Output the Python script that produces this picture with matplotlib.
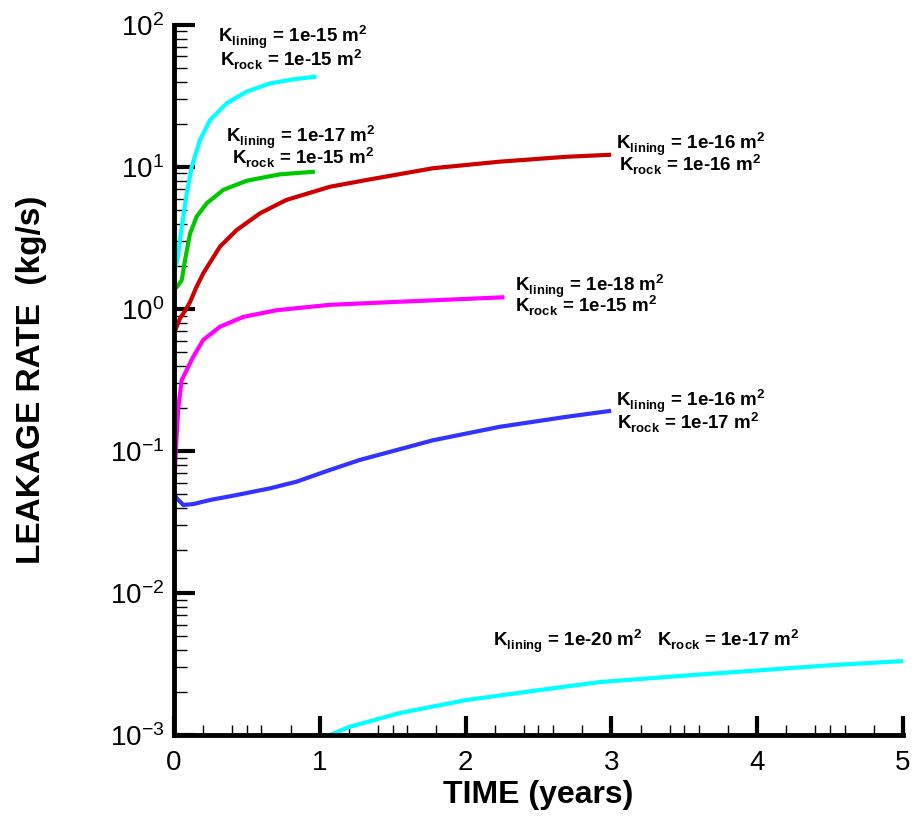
import matplotlib
matplotlib.use("Agg")
import matplotlib.pyplot as plt
import numpy as np

plt.rcParams['font.family'] = ['Liberation Sans', 'DejaVu Sans']
plt.rcParams['mathtext.fontset'] = 'custom'
plt.rcParams['mathtext.rm'] = 'Liberation Sans'
plt.rcParams['mathtext.bf'] = 'Liberation Sans:bold'
plt.rcParams['axes.unicode_minus'] = False

# leakage rate curves (time in years, rate in kg/s)
t_a = [0.012, 0.023, 0.053, 0.087, 0.121, 0.178, 0.247, 0.361, 0.498, 0.658, 0.817, 0.977]
q_a = [2.0, 2.21, 3.8, 6.5, 10.0, 15.5, 21.4, 28.1, 33.9, 38.8, 41.4, 43.3]

t_b = [0.008, 0.023, 0.053, 0.075, 0.11, 0.155, 0.224, 0.338, 0.498, 0.726, 0.966]
q_b = [1.4, 1.44, 1.6, 2.2, 3.4, 4.47, 5.55, 6.9, 8.0, 8.88, 9.27]

t_c = [0.0, 0.018, 0.041, 0.07, 0.11, 0.15, 0.2, 0.315, 0.43, 0.59, 0.77, 1.07, 1.32,
       1.776, 2.233, 2.69, 2.998]
q_c = [0.68, 0.75, 0.86, 0.95, 1.12, 1.4, 1.78, 2.75, 3.6, 4.72, 5.86, 7.26, 8.1,
       9.8, 10.9, 11.8, 12.2]

t_d = [0.003, 0.012, 0.022, 0.03, 0.053, 0.087, 0.132, 0.2, 0.315, 0.475, 0.703, 1.068,
       1.548, 2.267]
q_d = [0.06, 0.1, 0.15, 0.205, 0.316, 0.372, 0.461, 0.605, 0.75, 0.88, 0.98, 1.07,
       1.125, 1.21]

t_e = [0.004, 0.018, 0.064, 0.132, 0.247, 0.43, 0.658, 0.84, 1.068, 1.274, 1.776, 2.233,
       2.69, 2.998]
q_e = [0.05, 0.0465, 0.0417, 0.0423, 0.0452, 0.049, 0.0546, 0.0608, 0.0735, 0.0865,
       0.119, 0.148, 0.174, 0.192]

t_f = [1.07, 1.2, 1.55, 2.0, 2.5, 2.92, 3.5, 4.0, 4.5, 5.0]
q_f = [1.0e-3, 1.14e-3, 1.43e-3, 1.76e-3, 2.07e-3, 2.36e-3, 2.62e-3, 2.85e-3, 3.1e-3, 3.32e-3]

series = [(t_a, q_a, '#00ffff'), (t_b, q_b, '#00c800'), (t_c, q_c, '#cc0000'),
          (t_d, q_d, '#ff00ff'), (t_e, q_e, '#3333ff'), (t_f, q_f, '#00ffff')]

# label text: (x, y, string)
labels = [
    (0.30, 74.7, r'K$_{\mathbf{lining}}$ = 1e-15 m$^{\mathbf{2}}$'),
    (0.315, 50.6, r'K$_{\mathbf{rock}}$ = 1e-15 m$^{\mathbf{2}}$'),
    (0.356, 14.8, r'K$_{\mathbf{lining}}$ = 1e-17 m$^{\mathbf{2}}$'),
    (0.397, 10.3, r'K$_{\mathbf{rock}}$ = 1e-15 m$^{\mathbf{2}}$'),
    (3.034, 13.2, r'K$_{\mathbf{lining}}$ = 1e-16 m$^{\mathbf{2}}$'),
    (3.055, 9.2, r'K$_{\mathbf{rock}}$ = 1e-16 m$^{\mathbf{2}}$'),
    (2.336, 1.318, r'K$_{\mathbf{lining}}$ = 1e-18 m$^{\mathbf{2}}$'),
    (2.336, 0.937, r'K$_{\mathbf{rock}}$ = 1e-15 m$^{\mathbf{2}}$'),
    (3.034, 0.204, r'K$_{\mathbf{lining}}$ = 1e-16 m$^{\mathbf{2}}$'),
    (3.04, 0.1406, r'K$_{\mathbf{rock}}$ = 1e-17 m$^{\mathbf{2}}$'),
    (2.185, 4.17e-3, r'K$_{\mathbf{lining}}$ = 1e-20 m$^{\mathbf{2}}$   K$_{\mathbf{rock}}$ = 1e-17 m$^{\mathbf{2}}$'),
]

fig = plt.figure(figsize=(9.13, 8.33), dpi=100)
ax = fig.add_axes([0.1906, 0.1176, 0.7984, 0.8524])

for t, q, c in series:
    ax.plot(t, q, color=c, lw=3, solid_capstyle='butt', solid_joinstyle='round')

for x, y, s in labels:
    ax.text(x, y, s, fontsize=13.5, fontweight='bold', ha='left', va='baseline')

ax.set_yscale('log')
ax.set_xlim(0, 5)
ax.set_ylim(1e-3, 1e2)

ax.spines['top'].set_visible(False)
ax.spines['right'].set_visible(False)
ax.spines['left'].set_linewidth(3.5)
ax.spines['bottom'].set_linewidth(3.5)

ax.set_xticks([0, 1, 2, 3, 4, 5])
ax.set_xticks([0.2, 0.4, 0.5, 0.6, 0.8, 1.2, 1.4, 1.5, 1.6, 1.8, 2.2, 2.4, 2.5, 2.6, 2.8,
               3.2, 3.4, 3.5, 3.6, 3.8, 4.2, 4.4, 4.5, 4.6, 4.8], minor=True)
ax.tick_params(axis='x', which='major', direction='in', length=14, width=3, pad=11, labelsize=20)
ax.tick_params(axis='x', which='minor', direction='in', length=7, width=1)
ax.tick_params(axis='y', which='major', direction='in', length=15, width=3, pad=7, labelsize=20)
ax.tick_params(axis='y', which='minor', direction='in', length=9, width=1)

ax.set_xlabel('TIME (years)', fontsize=23, fontweight='bold', va='center')
ax.xaxis.set_label_coords(0.5, -0.0845)
ax.set_ylabel('LEAKAGE RATE  (kg/s)', fontsize=24, fontweight='bold', va='center')
ax.yaxis.set_label_coords(-0.196, 0.5)

fig.savefig('out.png', dpi=100)
